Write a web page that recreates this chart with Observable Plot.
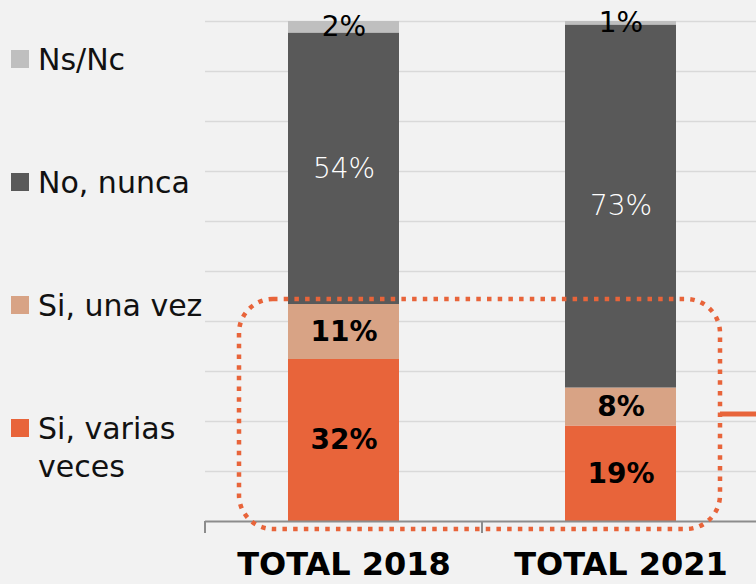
<!DOCTYPE html>
<html>
<head>
<meta charset="utf-8">
<script src="https://cdn.jsdelivr.net/npm/d3@7"></script>
<script src="https://cdn.jsdelivr.net/npm/@observablehq/plot@0.6"></script>
<style>
  html, body { margin: 0; padding: 0; background: #f2f2f2; }
  #chart { width: 756px; height: 584px; overflow: hidden; }
</style>
</head>
<body>
<div id="chart"></div>
<script>
// ---- data ----
const categories = ["TOTAL 2018", "TOTAL 2021"];
const responses = ["Si, varias veces", "Si, una vez", "No, nunca", "Ns/Nc"];
const variasVeces = [32.4, 19.1];
const unaVez = [11.0, 7.6];
const nunca = [54.3, 72.6];
const nsnc = [2.3, 0.7];
const legendLines = [["Ns/Nc"], ["No, nunca"], ["Si, una vez"], ["Si, varias", "veces"]];
const colors = ["#e8643a", "#d8a385", "#595959", "#bfbfbf"];

const seriesValues = [variasVeces, unaVez, nunca, nsnc];
const data = [];
categories.forEach((c, ci) => {
  let base = 0;
  responses.forEach((r, ri) => {
    const v = seriesValues[ri][ci];
    data.push({category: c, response: r, value: v, mid: base + v / 2, label: Math.round(v) + "%"});
    base += v;
  });
});

const font = "'DejaVu Sans', 'Noto Sans', sans-serif";

function overlay(index, scales) {
  const {x, y} = scales;
  const bw = x.bandwidth ? x.bandwidth() : (x(categories[1]) - x(categories[0]));
  const g = d3.create("svg:g");
  // axis ticks at band boundaries
  const bounds = [x(categories[0]), ...categories.map(c => x(c) + bw)];
  g.selectAll("line.tick").data(bounds).join("line")
    .attr("x1", d => d).attr("x2", d => d)
    .attr("y1", y(0)).attr("y2", y(0) + 12)
    .attr("stroke", "#8c8c8c").attr("stroke-width", 2);
  // dotted highlight box around the "Si" answers
  const siTop = d3.max(categories, (c, i) => variasVeces[i] + unaVez[i]);
  const left = x(categories[0]) + 34;
  const right = x(categories[1]) + bw - 39;
  const top = y(siTop) - 5;
  const bottom = y(0) + 8;
  g.append("rect")
    .attr("x", left).attr("y", top)
    .attr("width", right - left).attr("height", bottom - top)
    .attr("rx", 34).attr("ry", 34)
    .attr("fill", "none").attr("stroke", colors[0])
    .attr("stroke-width", 4.5).attr("stroke-dasharray", "4.5 6.2");
  // connector leaving the box
  g.append("line")
    .attr("x1", right).attr("x2", 760)
    .attr("y1", (top + bottom) / 2).attr("y2", (top + bottom) / 2)
    .attr("stroke", colors[0]).attr("stroke-width", 5);
  // legend
  const legendY = [59, 182, 305, 428];
  const order = [3, 2, 1, 0];
  order.forEach((ri, k) => {
    const cy = legendY[k];
    g.append("rect").attr("x", 11).attr("y", cy - 9).attr("width", 18).attr("height", 18)
      .attr("fill", colors[ri]);
    const t = g.append("text").attr("x", 38).attr("y", cy + 11)
      .attr("text-anchor", "start")
      .attr("font-family", font).attr("font-size", 30).attr("fill", "#111");
    legendLines[k].forEach((line, li) => {
      t.append("tspan").attr("x", 38).attr("dy", li === 0 ? 0 : 38).text(line);
    });
  });
  return g.node();
}

const chart = Plot.plot({
  width: 756,
  height: 584,
  marginLeft: 205,
  marginRight: 0,
  marginTop: 21,
  marginBottom: 63,
  style: {background: "#f2f2f2", fontFamily: font},
  x: {domain: categories, range: [205, 759], padding: 0, axis: null},
  y: {domain: [0, 100], axis: null},
  color: {domain: responses, range: colors},
  marks: [
    Plot.ruleY(d3.range(10, 101, 10), {stroke: "#d9d9d9", strokeWidth: 1.5}),
    Plot.barY(data, Plot.stackY({x: "category", y: "value", fill: "response", insetLeft: 83, insetRight: 83})),
    Plot.ruleY([0], {stroke: "#8c8c8c", strokeWidth: 2}),
    Plot.text(data.filter(d => d.response.startsWith("Si")), {
      x: "category", y: "mid", text: "label", fill: "#000", fontSize: 28, fontWeight: "bold"
    }),
    Plot.text(data.filter(d => d.response === "No, nunca"), {
      x: "category", y: "mid", text: "label", fill: "#fff", fontSize: 28, fontWeight: 300
    }),
    Plot.text(data.filter(d => d.response === "Ns/Nc"), {
      x: "category", y: "mid", text: "label", fill: "#000", fontSize: 28
    }),
    Plot.text(categories, {
      x: d => d, frameAnchor: "bottom", dy: 53, text: d => d,
      fontSize: 32, fontWeight: "bold", fill: "#000"
    }),
    overlay
  ]
});
document.getElementById("chart").appendChild(chart);
</script>
</body>
</html>
